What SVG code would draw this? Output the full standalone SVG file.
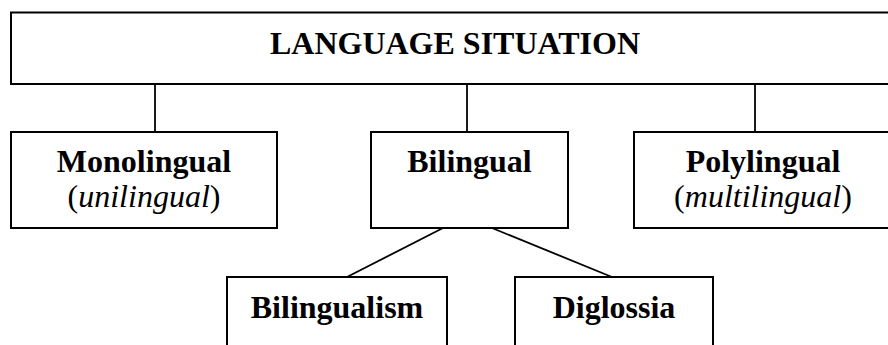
<svg xmlns="http://www.w3.org/2000/svg" width="888" height="345" viewBox="0 0 888 345">
<style>
rect{fill:#fff;stroke:#000;stroke-width:2}
line{stroke:#000;stroke-width:1.8}
text{font-family:"Liberation Serif","Times New Roman",serif;font-size:32px;fill:#000;text-anchor:middle}
.b{font-weight:bold}
.i{font-style:italic}
</style>
<rect width="888" height="345" style="fill:#fff;stroke:none"/>
<g id="connectors">
<line x1="155" y1="84" x2="155" y2="132"/>
<line x1="467" y1="84" x2="467" y2="132"/>
<line x1="755" y1="84" x2="755" y2="132"/>
<line x1="443" y1="228" x2="347" y2="277"/>
<line x1="492" y1="228" x2="612" y2="277"/>
</g>
<g id="language-situation">
<rect x="11" y="12.5" width="890" height="71.5"/>
<text class="b" x="455" y="54">LANGUAGE SITUATION</text>
</g>
<g id="monolingual">
<rect x="11" y="132" width="266" height="96"/>
<text class="b" x="144" y="172">Monolingual</text>
<text x="144" y="207">(<tspan class="i">unilingual</tspan>)</text>
</g>
<g id="bilingual">
<rect x="371" y="132" width="197" height="96"/>
<text class="b" x="469.5" y="172">Bilingual</text>
</g>
<g id="polylingual">
<rect x="634" y="132" width="260" height="96"/>
<text class="b" x="763" y="172">Polylingual</text>
<text x="763" y="207">(<tspan class="i">multilingual</tspan>)</text>
</g>
<g id="bilingualism">
<rect x="227" y="277" width="220" height="90"/>
<text class="b" x="337" y="318">Bilingualism</text>
</g>
<g id="diglossia">
<rect x="515" y="277" width="198" height="90"/>
<text class="b" x="614" y="318">Diglossia</text>
</g>
</svg>
